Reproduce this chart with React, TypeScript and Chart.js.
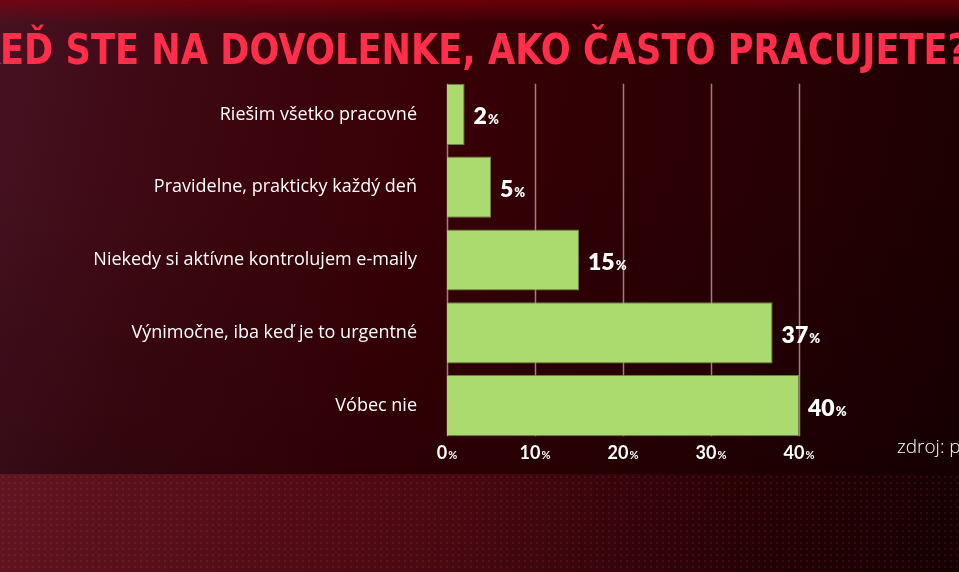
import { useEffect, useRef } from "react";
import { Chart, registerables, Plugin } from "chart.js";

Chart.register(...registerables);

// survey answers, top to bottom
const categories = [
  "Riešim všetko pracovné",
  "Pravidelne, prakticky každý deň",
  "Niekedy si aktívne kontrolujem e-maily",
  "Výnimočne, iba keď je to urgentné",
  "Vóbec nie",
];
const values = [2, 5, 15, 37, 40];
const axisTicks = [0, 10, 20, 30, 40];

const title = "KEĎ STE NA DOVOLENKE, AKO ČASTO PRACUJETE?";
const source = "zdroj: p";

const FONT = '"Lato", "Open Sans", sans-serif';
const LABEL_FONT = '"Open Sans", "Lato", sans-serif';

// draws number + small "%" starting at x
const drawPct = (
  ctx: CanvasRenderingContext2D,
  num: string,
  x: number,
  y: number,
  bigSize: number,
  smallSize: number,
  weight: number,
  align: "left" | "center"
) => {
  ctx.font = `${weight} ${bigSize}px ${FONT}`;
  const nw = ctx.measureText(num).width;
  ctx.font = `${weight} ${smallSize}px ${FONT}`;
  const pw = ctx.measureText("%").width;
  const start = align === "left" ? x : x - (nw + pw + 1) / 2;
  ctx.textAlign = "left";
  ctx.textBaseline = "alphabetic";
  ctx.font = `${weight} ${bigSize}px ${FONT}`;
  ctx.fillText(num, start, y);
  ctx.font = `${weight} ${smallSize}px ${FONT}`;
  ctx.fillText("%", start + nw + 1, y);
};

const gridPlugin: Plugin<"bar"> = {
  id: "gridLines",
  beforeDatasetsDraw(chart) {
    const { ctx } = chart;
    const xs = chart.scales.x;
    const bars = chart.getDatasetMeta(0).data as any[];
    const first = bars[0].getProps(["y", "height"], true);
    const last = bars[bars.length - 1].getProps(["y", "height"], true);
    const top = first.y - first.height / 2;
    const bottom = last.y + last.height / 2;
    ctx.save();
    ctx.strokeStyle = "rgba(205,165,165,0.75)";
    ctx.lineWidth = 1.5;
    axisTicks.forEach((t) => {
      const x = Math.round(xs.getPixelForValue(t)) + 0.5;
      ctx.beginPath();
      ctx.moveTo(x, top);
      ctx.lineTo(x, bottom);
      ctx.stroke();
    });
    ctx.restore();
  },
};

const labelPlugin: Plugin<"bar"> = {
  id: "labels",
  afterDatasetsDraw(chart) {
    const { ctx } = chart;
    const xs = chart.scales.x;
    const bars = chart.getDatasetMeta(0).data as any[];
    ctx.save();
    ctx.fillStyle = "#ffffff";
    bars.forEach((bar, i) => {
      const p = bar.getProps(["x", "y"], true);
      drawPct(ctx, String(values[i]), p.x + 9, p.y + 10, 23, 13, 800, "left");
    });
    const last = bars[bars.length - 1].getProps(["y", "height"], true);
    const ty = last.y + last.height / 2 + 23;
    axisTicks.forEach((t) => {
      drawPct(ctx, String(t), xs.getPixelForValue(t), ty, 18, 11, 700, "center");
    });
    // source note
    ctx.font = `300 19px ${LABEL_FONT}`;
    ctx.textAlign = "left";
    ctx.fillText(source, xs.right + 98, ty - 6);

    // headline, first letter cut by the left edge
    ctx.font = `700 43px "Liberation Sans Narrow", "DejaVu Sans Condensed", sans-serif`;
    const kw = ctx.measureText(title.charAt(0)).width;
    const rw = ctx.measureText(title.slice(1)).width;
    const sx = 968 / rw;
    ctx.translate(-kw * sx, 64);
    ctx.scale(sx, 1);
    ctx.fillStyle = "#ff2e4a";
    ctx.fillText(title, 0, 0);
    ctx.restore();
  },
};

const App: React.FC = () => {
  const chartRef = useRef<HTMLCanvasElement | null>(null);

  useEffect(() => {
    document.body.style.margin = "0";
    if (!chartRef.current) return;
    const ctx = chartRef.current.getContext("2d");
    if (!ctx) return;

    const chart = new Chart(ctx, {
      type: "bar",
      data: {
        labels: categories,
        datasets: [
          {
            data: values,
            backgroundColor: "#abdb6e",
            borderColor: "rgba(120,140,85,0.9)",
            borderWidth: 1,
            barPercentage: 0.84,
            categoryPercentage: 1,
          },
        ],
      },
      options: {
        indexAxis: "y",
        responsive: false,
        animation: false,
        layout: { padding: { top: 78, right: 160, bottom: 130, left: 0 } },
        plugins: {
          legend: { display: false },
          tooltip: { enabled: false },
          title: { display: false },
        },
        scales: {
          x: {
            min: 0,
            max: 40,
            grid: { display: false },
            border: { display: false },
            ticks: { display: false },
            afterFit: (s: any) => {
              s.height = 0;
            },
          },
          y: {
            grid: { display: false },
            border: { display: false },
            ticks: {
              color: "#ffffff",
              padding: 22,
              font: { family: LABEL_FONT, size: 18, weight: 400 },
            },
            afterFit: (s: any) => {
              s.width = 447;
            },
          },
        },
      },
      plugins: [gridPlugin, labelPlugin],
    });

    return () => {
      chart.destroy();
    };
  }, []);

  return (
    <div
      style={{
        position: "fixed",
        left: 0,
        top: 0,
        width: 959,
        height: 572,
        overflow: "hidden",
        background:
          "linear-gradient(180deg, rgba(130,0,12,0.7) 0px, rgba(130,0,12,0) 24px)," +
          "linear-gradient(180deg, rgba(0,0,0,0) 30%, rgba(0,0,0,0.25) 100%)," +
          "linear-gradient(100deg, #461222 0%, #3e0812 18%, #380006 42%, #2a0004 70%, #1a0002 100%)",
      }}
    >
      <div
        style={{
          position: "absolute",
          left: 0,
          top: 474,
          width: 959,
          height: 98,
          background:
            "radial-gradient(circle, rgba(255,130,130,0.09) 0.8px, rgba(0,0,0,0) 1.4px) 0 0 / 6px 6px," +
            "linear-gradient(90deg, rgba(140,30,45,0.5) 0%, rgba(125,22,38,0.4) 45%, rgba(70,5,15,0.2) 80%, rgba(40,0,5,0.1) 100%)",
        }}
      />
      <canvas
        ref={chartRef}
        width={959}
        height={572}
        style={{ position: "absolute", left: 0, top: 0 }}
      ></canvas>
    </div>
  );
};

export default App;
